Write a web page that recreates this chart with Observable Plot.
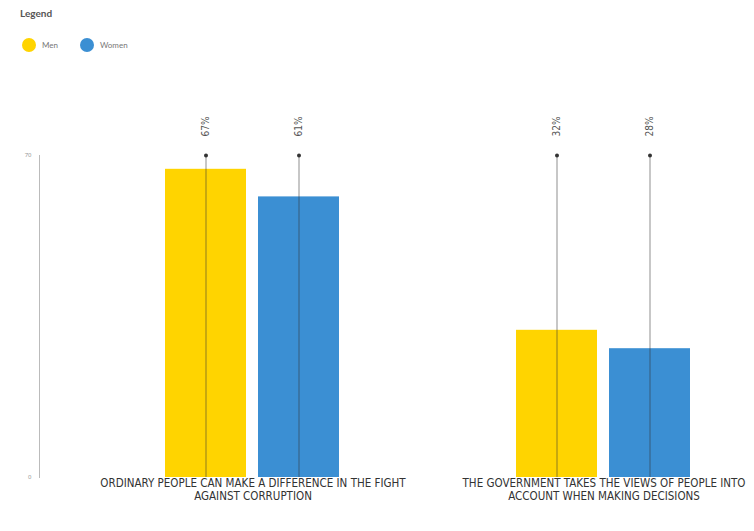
<!DOCTYPE html>
<html>
<head>
<meta charset="utf-8">
<script src="https://cdn.jsdelivr.net/npm/d3@7"></script>
<script src="https://cdn.jsdelivr.net/npm/@observablehq/plot@0.6"></script>
<style>
  body { margin: 0; background: #fff; font-family: Lato, "Open Sans", sans-serif; }
  #wrap { position: relative; width: 754px; height: 531px; }
  #legend { position: absolute; left: 0; top: 0; width: 754px; height: 70px; }
  #legend .title { position: absolute; left: 20px; top: 7px; font-size: 10px; font-weight: 700; color: #555; }
  #legend .item { position: absolute; top: 38px; display: flex; align-items: center; font-size: 8px; color: #777; }
  #legend .sw { width: 14px; height: 14px; border-radius: 50%; margin-right: 6px; }
  #chart { position: absolute; left: 0; top: 70px; }
</style>
</head>
<body>
<div id="wrap">
  <div id="legend"></div>
  <div id="chart"></div>
</div>
<script>
const questions = [
  "ORDINARY PEOPLE CAN MAKE A DIFFERENCE IN THE FIGHT AGAINST CORRUPTION",
  "THE GOVERNMENT TAKES THE VIEWS OF PEOPLE INTO ACCOUNT WHEN MAKING DECISIONS"
];
const questionLines = [
  ["ORDINARY PEOPLE CAN MAKE A DIFFERENCE IN THE FIGHT", "AGAINST CORRUPTION"],
  ["THE GOVERNMENT TAKES THE VIEWS OF PEOPLE INTO", "ACCOUNT WHEN MAKING DECISIONS"]
];
const genders = ["Men", "Women"];
const menValues = [67, 32];
const womenValues = [61, 28];
const yTicks = [0, 70];
const colors = ["#FFD400", "#3B8FD3"];

const yMax = yTicks[yTicks.length - 1];
const data = questions.flatMap((q, i) => [
  {question: q, gender: genders[0], value: menValues[i]},
  {question: q, gender: genders[1], value: womenValues[i]}
]);

// legend
const legend = document.getElementById("legend");
const t = document.createElement("div");
t.className = "title"; t.textContent = "Legend";
legend.appendChild(t);
const lefts = [22, 80];
genders.forEach((g, i) => {
  const it = document.createElement("div");
  it.className = "item";
  it.style.left = lefts[i] + "px";
  const sw = document.createElement("span");
  sw.className = "sw"; sw.style.background = colors[i];
  it.appendChild(sw);
  const lb = document.createElement("span");
  lb.textContent = g;
  it.appendChild(lb);
  legend.appendChild(it);
});

const fmtQ = d => questionLines[questions.indexOf(d)].join("\n");
const condensed = "'Liberation Sans Narrow', 'DejaVu Sans Condensed', sans-serif";

const chart = Plot.plot({
  width: 754,
  height: 461,
  marginTop: 85,
  marginBottom: 54,
  marginLeft: 112,
  marginRight: 10,
  fx: {domain: questions, paddingInner: 0.318, paddingOuter: 0.0568, label: null, axis: null},
  x: {domain: genders, paddingInner: 0.1277, paddingOuter: 0.3405, axis: null},
  y: {domain: [0, yMax], axis: null},
  color: {domain: genders, range: colors},
  marks: [
    Plot.frame({anchor: "left", facetAnchor: "left", dx: -94, stroke: "#bbb"}),
    Plot.axisY({ticks: yTicks, tickSize: 0, tickPadding: 8, dx: -94, fontSize: 6, fill: "#999", label: null, facetAnchor: "left"}),
    Plot.barY(data, {fx: "question", x: "gender", y: "value", fill: "gender"}),
    Plot.ruleX(data, {fx: "question", x: "gender", y1: 0, y2: yMax, stroke: "#333", strokeOpacity: 0.55}),
    Plot.dot(data, {fx: "question", x: "gender", y: () => yMax, r: 2, fill: "#333", stroke: null}),
    Plot.text(data, {fx: "question", x: "gender", y: () => yMax, text: d => d.value + "%", rotate: -90, dy: -29, fontSize: 10, fill: "#555", fontFamily: condensed, textAnchor: "middle", lineAnchor: "middle"}),
    Plot.axisFx({anchor: "bottom", tickSize: 0, tickPadding: 0, tickFormat: fmtQ, fontSize: 11.5, lineHeight: 1.15, fill: "#333", fontFamily: condensed, label: null})
  ]
});
document.getElementById("chart").appendChild(chart);
</script>
</body>
</html>
